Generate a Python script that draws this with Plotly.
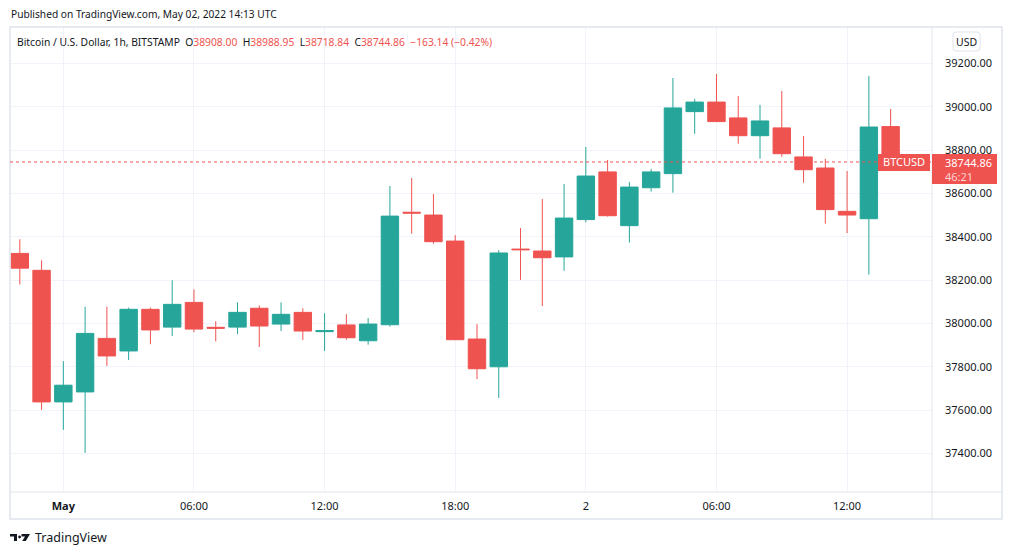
import plotly.graph_objects as go
import pandas as pd

# ---- data ----
times = pd.date_range("2022-04-30 22:00", periods=41, freq="h")
opens = [38323, 38245, 37638, 37684, 37931, 37873, 38065, 37983, 38097, 37982,
         37983, 38070, 37997, 38051, 37962, 37993, 37920, 37994, 38513, 38500,
         38380, 37928, 37800, 38343, 38334, 38307, 38479, 38699, 38451, 38626,
         38691, 38977, 39021, 38948, 38866, 38902, 38768, 38717, 38517, 38483,
         38908.00]
highs = [38388, 38291, 37826, 38077, 38077, 38073, 38073, 38199, 38157, 38010,
         38097, 38083, 38097, 38070, 38047, 38043, 38025, 38634, 38671, 38597,
         38407, 37997, 38338, 38440, 38574, 38643, 38814, 38754, 38652, 38712,
         39132, 39035, 39151, 39049, 39008, 39072, 38865, 38759, 38703, 39141,
         38988.95]
lows = [38180, 37601, 37509, 37403, 37804, 37831, 37904, 37942, 37960, 37917,
        37951, 37891, 37965, 37924, 37873, 37925, 37902, 37985, 38414, 38368,
        37924, 37743, 37656, 38201, 38080, 38243, 38467, 38493, 38373, 38608,
        38603, 38875, 38930, 38829, 38760, 38769, 38649, 38460, 38417, 38225,
        38718.84]
closes = [38255, 37638, 37715, 37954, 37850, 38065, 37970, 38088, 37974, 37978,
          38051, 37988, 38042, 37965, 37967, 37934, 37997, 38495, 38509, 38377,
          37925, 37791, 38325, 38340, 38303, 38486, 38680, 38497, 38629, 38699,
          38994, 39021, 38931, 38866, 38934, 38783, 38709, 38525, 38500, 38906,
          38744.86]

y_ticks = [37400, 37600, 37800, 38000, 38200, 38400, 38600, 38800, 39000, 39200]
x_tickvals = ["2022-05-01 00:00", "2022-05-01 06:00", "2022-05-01 12:00",
              "2022-05-01 18:00", "2022-05-02 00:00", "2022-05-02 06:00",
              "2022-05-02 12:00"]
x_ticktext = ["<b>May</b>", "06:00", "12:00", "18:00", "2", "06:00", "12:00"]

title_text = "Bitcoin / U.S. Dollar, 1h, BITSTAMP"
published_text = "Published on TradingView.com, May 02, 2022 14:13 UTC"
symbol = "BTCUSD"
countdown = "46:21"

GREEN = "#26a69a"
RED = "#ef5350"
TXT = "#131722"
GRID = "#f0f3fa"
BORDER = "#e0e3eb"
FONT = "Noto Sans"

W, H = 1012, 555
L, R, T, B = 10, 932, 27, 492   # plot area in pixels


def px(x):
    return (x - L) / (R - L)


def py(y):
    return (B - y) / (B - T)


fig = go.Figure()
fig.add_trace(go.Candlestick(
    x=times, open=opens, high=highs, low=lows, close=closes,
    increasing=dict(line=dict(color=GREEN, width=1), fillcolor=GREEN),
    decreasing=dict(line=dict(color=RED, width=1), fillcolor=RED),
    whiskerwidth=0, showlegend=False, hoverinfo="skip",
))

last_o, last_h, last_l, last_c = opens[-1], highs[-1], lows[-1], closes[-1]
chg = last_c - last_o
pct = chg / last_o * 100


def fmt_signed(v, suffix=""):
    s = f"{abs(v):.2f}{suffix}"
    return ("\u2212" if v < 0 else "+") + s


sp = "&nbsp;&nbsp;"
red_span = lambda s: f"<span style='color:{RED}'>{s}</span>"
legend_txt = (f"{title_text}{sp}O{red_span(f'{last_o:.2f}')}{sp}"
              f"H{red_span(f'{last_h:.2f}')}{sp}L{red_span(f'{last_l:.2f}')}{sp}"
              f"C{red_span(f'{last_c:.2f}')}{sp}"
              f"{red_span(fmt_signed(chg) + ' (' + fmt_signed(pct, '%') + ')')}")

shapes = []
# outer frame and separators
shapes.append(dict(type="rect", xref="paper", yref="paper",
                   x0=px(10), x1=px(1002), y0=py(519), y1=py(27),
                   line=dict(color=BORDER, width=1.5), layer="above"))
shapes.append(dict(type="line", xref="paper", yref="paper",
                   x0=1, x1=1, y0=py(519), y1=py(27),
                   line=dict(color=BORDER, width=1), layer="above"))
shapes.append(dict(type="line", xref="paper", yref="paper",
                   x0=0, x1=px(1002), y0=0, y1=0,
                   line=dict(color=BORDER, width=1), layer="above"))
# last price dotted line
shapes.append(dict(type="line", xref="paper", yref="y", x0=0, x1=1,
                   y0=last_c, y1=last_c,
                   line=dict(color=RED, width=1, dash="dot"), layer="above"))
# BTCUSD tag
shapes.append(dict(type="rect", xref="paper", yref="y", ysizemode="pixel",
                   yanchor=last_c, y0=-9, y1=8, x0=px(878), x1=px(930),
                   fillcolor=RED, line=dict(width=0), layer="above"))
# price tag on axis
shapes.append(dict(type="rect", xref="paper", yref="y", ysizemode="pixel",
                   yanchor=last_c, y0=-22, y1=8, x0=px(932), x1=px(997),
                   fillcolor=RED, line=dict(width=0), layer="above"))
# USD rounded box
hw, hh, r = 13.5, 9.5, 3
usd_path = (f"M{-hw + r},{hh} L{hw - r},{hh} Q{hw},{hh} {hw},{hh - r} "
            f"L{hw},{-hh + r} Q{hw},{-hh} {hw - r},{-hh} L{-hw + r},{-hh} "
            f"Q{-hw},{-hh} {-hw},{-hh + r} L{-hw},{hh - r} Q{-hw},{hh} {-hw + r},{hh} Z")
shapes.append(dict(type="path", xref="paper", yref="paper",
                   xsizemode="pixel", ysizemode="pixel",
                   xanchor=px(966.5), yanchor=py(41.5), path=usd_path,
                   line=dict(color=BORDER, width=1), fillcolor="white", layer="above"))
# TradingView logo (pixel paths anchored at top-left of logo)
logo_t = "M0,0 L7,0 L7,-7 L4,-7 L4,-2.6 L0,-2.6 Z"
logo_s = "M11.5,0 L20,0 L15.8,-7 L12.2,-7 L15,-2.6 L11.5,-2.6 Z"
for pth in (logo_t, logo_s):
    shapes.append(dict(type="path", xref="paper", yref="paper",
                       xsizemode="pixel", ysizemode="pixel",
                       xanchor=px(10), yanchor=py(534), path=pth,
                       line=dict(width=0), fillcolor=TXT, layer="above"))
shapes.append(dict(type="circle", xref="paper", yref="paper",
                   xsizemode="pixel", ysizemode="pixel",
                   xanchor=px(10), yanchor=py(534), x0=8.2, x1=11, y0=-1.6, y1=-4.4,
                   line=dict(width=0), fillcolor=TXT, layer="above"))

annotations = [
    dict(text=published_text, xref="paper", yref="paper", x=px(9), y=py(14),
         xanchor="left", yanchor="middle", showarrow=False,
         font=dict(family=FONT, size=10.2, color=TXT)),
    dict(text=legend_txt, xref="paper", yref="paper", x=px(15), y=py(42),
         xanchor="left", yanchor="middle", showarrow=False,
         font=dict(family=FONT, size=10.3, color=TXT)),
    dict(text="USD", xref="paper", yref="paper", x=px(966.5), y=py(42),
         xanchor="center", yanchor="middle", showarrow=False,
         font=dict(family=FONT, size=10.5, color=TXT)),
    dict(text=symbol, xref="paper", yref="y", x=px(904), y=last_c,
         xanchor="center", yanchor="middle", showarrow=False, yshift=0,
         font=dict(family=FONT, size=11, color="white")),
    dict(text=f"{last_c:.2f}", xref="paper", yref="y", x=px(943), y=last_c,
         xanchor="left", yanchor="middle", showarrow=False, yshift=-1,
         font=dict(family=FONT, size=11, color="white")),
    dict(text=countdown, xref="paper", yref="y", x=px(943), y=last_c,
         xanchor="left", yanchor="middle", showarrow=False, yshift=-15,
         font=dict(family=FONT, size=11, color="rgba(255,255,255,0.75)")),
    dict(text="TradingView", xref="paper", yref="paper", x=px(33), y=py(537.5),
         xanchor="left", yanchor="middle", showarrow=False,
         font=dict(family=FONT, size=12.5, color=TXT)),
]

fig.update_layout(
    width=W, height=H,
    margin=dict(l=L, r=W - R, t=T, b=H - B, pad=0),
    paper_bgcolor="white", plot_bgcolor="white",
    boxgap=0.2, boxgroupgap=0,
    font=dict(family=FONT, size=11, color=TXT),
    shapes=shapes, annotations=annotations,
    hovermode=False,
    xaxis=dict(
        type="date",
        range=["2022-04-30 21:33", "2022-05-02 15:54"],
        rangeslider=dict(visible=False),
        tickvals=x_tickvals, ticktext=x_ticktext,
        showgrid=True, gridcolor=GRID, gridwidth=1,
        zeroline=False, showline=False, ticks="",
        ticklabelstandoff=6,
        tickfont=dict(family=FONT, size=11, color=TXT),
        fixedrange=True,
    ),
    yaxis=dict(
        side="right",
        range=[37222.4, 39367.4],
        tickvals=y_ticks, tickformat=".2f",
        showgrid=True, gridcolor=GRID, gridwidth=1,
        zeroline=False, showline=False, ticks="",
        ticklabelstandoff=12,
        tickfont=dict(family=FONT, size=11, color=TXT),
        fixedrange=True,
    ),
)

fig.write_html("out.html", config={"displayModeBar": False},
               post_script="document.body.style.margin='0px';")
